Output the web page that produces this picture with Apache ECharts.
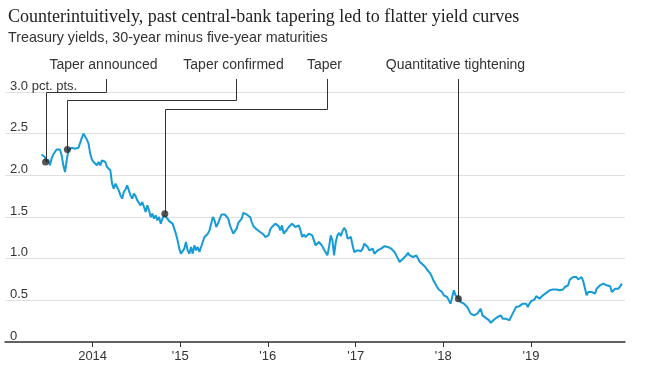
<!DOCTYPE html>
<html><head><meta charset="utf-8">
<script src="https://cdn.jsdelivr.net/npm/echarts@6/dist/echarts.min.js"></script>
<style>html,body{margin:0;padding:0;background:#fff}#c{width:646px;height:374px}</style>
</head><body><div id="c"></div>
<script>
// ---- data (weekly readings, pct. pts.) ----
const seg1Start = '2013-06-02';
const seg1Values = [
2.25,2.23,2.22,2.16,2.19,2.12,2.20,2.25,2.28,2.31,
2.29,2.31,2.24,2.12,2.04,2.18,2.30,2.28,2.33,2.31,
2.32,2.32,2.33,2.39,2.45,2.50,2.48,2.43,2.38,2.26,
2.19,2.16,2.18,2.12,2.16,2.12,2.18,2.19,2.16,2.10,
2.08,2.06,1.90,1.84,1.90,1.86,1.82,1.76,1.72,1.80,
1.83,1.88,1.82,1.76,1.72,1.78,1.75,1.70,1.72,1.64,
1.68,1.62,1.56,1.64,1.58,1.50,1.54,1.48,1.52,1.46,
1.50,1.42,1.48,1.52,1.54,1.48,1.45,1.44,1.42,1.40,
1.30,1.22,1.12,1.06,1.04,1.12,1.20,1.10,1.06,1.14,
1.06,1.16,1.10,1.14,1.08,1.14,1.20,1.26,1.24,1.30,
1.34,1.42,1.50,1.46,1.38,1.42,1.40];
const seg2Start = '2015-06-15';
const seg2Values = [
1.48,1.53,1.55,1.53,1.51,1.48,1.40,1.35,1.30,1.28,
1.36,1.43,1.45,1.48,1.55,1.57,1.53,1.53,1.50,1.44,
1.39,1.38,1.35,1.33,1.32,1.31,1.29,1.26,1.24,1.28,
1.35,1.38,1.36,1.42,1.40,1.39,1.34,1.40,1.30,1.31,
1.35,1.38,1.40,1.42,1.40,1.38,1.39,1.40,1.34,1.26,
1.29,1.26,1.26,1.30,1.32,1.28,1.22,1.16,1.15,1.20,
1.20,1.15,1.11,1.10,1.04,1.14,1.28,1.22,1.04,1.20,
1.28,1.31,1.27,1.33,1.37,1.34,1.24,1.23,1.26,1.16,
1.08,1.09,1.10,1.09,1.09,1.12,1.18,1.20,1.14,1.10,
1.08,1.12,1.06,1.08,1.10,1.08,1.12,1.14,1.15,1.16,
1.14,1.15,1.12,1.11,1.08,1.06,1.00,0.96,0.96,1.00,
1.02,1.04,1.07,1.04,1.02,1.02,1.00,1.04,1.04,0.96];
const seg3Start = '2017-09-27';
const seg3Values = [
0.96,0.94,0.95,0.90,0.87,0.85,0.82,0.78,0.73,0.70,
0.66,0.63,0.62,0.60,0.56,0.55,0.54,0.50,0.46,0.46,
0.62,0.56,0.54,0.52,0.48,0.50,0.46,0.44,0.42,0.38,
0.34,0.36,0.32,0.30,0.34,0.36,0.40,0.32,0.30,0.29,
0.30,0.26,0.23,0.24,0.27,0.29,0.30,0.31,0.32,0.28,
0.27,0.28,0.26,0.26,0.30,0.34,0.38,0.42,0.42,0.43,
0.43,0.46,0.47,0.46,0.42,0.46,0.49,0.50,0.51,0.55,
0.55,0.52,0.54,0.56,0.55,0.59,0.61,0.62,0.62,0.63,
0.64,0.63,0.64,0.62,0.64,0.63,0.66,0.65,0.68,0.75,
0.76,0.78,0.80,0.78,0.75,0.76,0.78,0.73,0.72,0.56,
0.60,0.62,0.60,0.62,0.58,0.64,0.62,0.68,0.68,0.70,
0.68,0.68,0.70,0.67,0.60,0.62,0.64,0.62,0.64,0.66,
0.70];
const events = ['Taper announced','Taper confirmed','Taper','Quantitative tightening'];
const eventDates = ['2013-06-19','2013-09-18','2014-10-29','2018-03-05'];
const eventValues = [2.16, 2.31, 1.54, 0.52];
const xTickDates = ['2014-01-01','2015-01-01','2016-01-01','2017-01-01','2018-01-01','2019-01-01'];
const xTickLabels = ['2014',"'15","'16","'17","'18","'19"];
const yTickLabels = {0:'0',0.5:'0.5',1:'1.0',1.5:'1.5',2:'2.0',2.5:'2.5',3:'3.0 pct. pts.'};

// ---- build ----
const DAY = 864e5;
function ts(d){ return new Date(d + 'T00:00:00').getTime(); }
function weekly(start, values){ const t0 = ts(start); return values.map((v,i)=>[t0 + i*7*DAY, v]); }
const lineData = weekly(seg1Start, seg1Values).concat(weekly(seg2Start, seg2Values), weekly(seg3Start, seg3Values));
const tickTs = xTickDates.map(ts);
const eventData = eventDates.map((d,i)=>[ts(d), eventValues[i]]);

const chart = echarts.init(document.getElementById('c'));
const sans = '"Liberation Sans", Arial, sans-serif';
chart.setOption({
  animation: false,
  title: {
    text: 'Counterintuitively, past central-bank tapering led to flatter yield curves',
    subtext: 'Treasury yields, 30-year minus five-year maturities',
    left: 3, top: 2, itemGap: 3,
    textStyle: {fontFamily: '"Liberation Serif", "Times New Roman", serif', fontSize: 18, fontWeight: 'normal', color: '#222', lineHeight: 20},
    subtextStyle: {fontFamily: sans, fontSize: 14.3, color: '#333', lineHeight: 16}
  },
  grid: {left: 5, right: 21, top: 92, bottom: 32},
  xAxis: {
    type: 'value', min: ts('2013-01-01'), max: ts('2020-01-28'),
    axisLine: {lineStyle: {color: '#333', width: 1.5}},
    axisTick: {show: true, customValues: tickTs, length: 5, lineStyle: {color: '#333', width: 1}},
    axisLabel: {customValues: tickTs, margin: 8, color: '#333', fontSize: 13, fontFamily: sans,
      formatter: v => { const i = tickTs.indexOf(v); return i >= 0 ? xTickLabels[i] : ''; }},
    splitLine: {show: false}
  },
  yAxis: {
    type: 'value', min: 0, max: 3, interval: 0.5,
    axisLine: {show: false}, axisTick: {show: false},
    splitLine: {lineStyle: {color: '#e0e0e0', width: 1}},
    axisLabel: {inside: true, margin: 5, verticalAlign: 'bottom', lineHeight: 12, color: '#333', fontSize: 13, fontFamily: sans,
      formatter: v => yTickLabels[v] !== undefined ? yTickLabels[v] : ''}
  },
  series: [
    {type: 'line', data: lineData, showSymbol: false, symbol: 'none', lineStyle: {color: '#159bd7', width: 2}, z: 3},
    {type: 'scatter', data: eventData, symbolSize: 7, itemStyle: {color: '#2a2a2a'}, z: 6}
  ]
});

const annLayout = [
  {elbowValue: 3.0, labelX: 106},
  {elbowValue: 2.9, labelX: 236},
  {elbowValue: 2.8, labelX: 327},
  {elbowValue: null, labelX: null}
];
const lineTop = 79, labelY = 65, labelShift = -3;
const graphic = [];
events.forEach((name, i) => {
  const p = chart.convertToPixel({gridIndex: 0}, eventData[i]);
  const px = Math.round(p[0]) + 0.5;
  const L = annLayout[i];
  let pts, lx;
  if (L.elbowValue !== null) {
    const ey = Math.round(chart.convertToPixel({gridIndex: 0}, [eventData[i][0], L.elbowValue])[1]) + 0.5;
    lx = L.labelX + 0.5;
    pts = [[px, p[1]], [px, ey], [lx, ey], [lx, lineTop]];
  } else {
    lx = px;
    pts = [[px, p[1]], [px, lineTop]];
  }
  graphic.push({type: 'polyline', z: 4, shape: {points: pts}, style: {stroke: '#333', lineWidth: 1, fill: null}});
  graphic.push({type: 'text', z: 4, x: lx + labelShift, y: labelY, style: {text: name, textAlign: 'center', textVerticalAlign: 'middle', font: '14px ' + sans, fill: '#333'}});
});
chart.setOption({graphic: graphic});
</script></body></html>
